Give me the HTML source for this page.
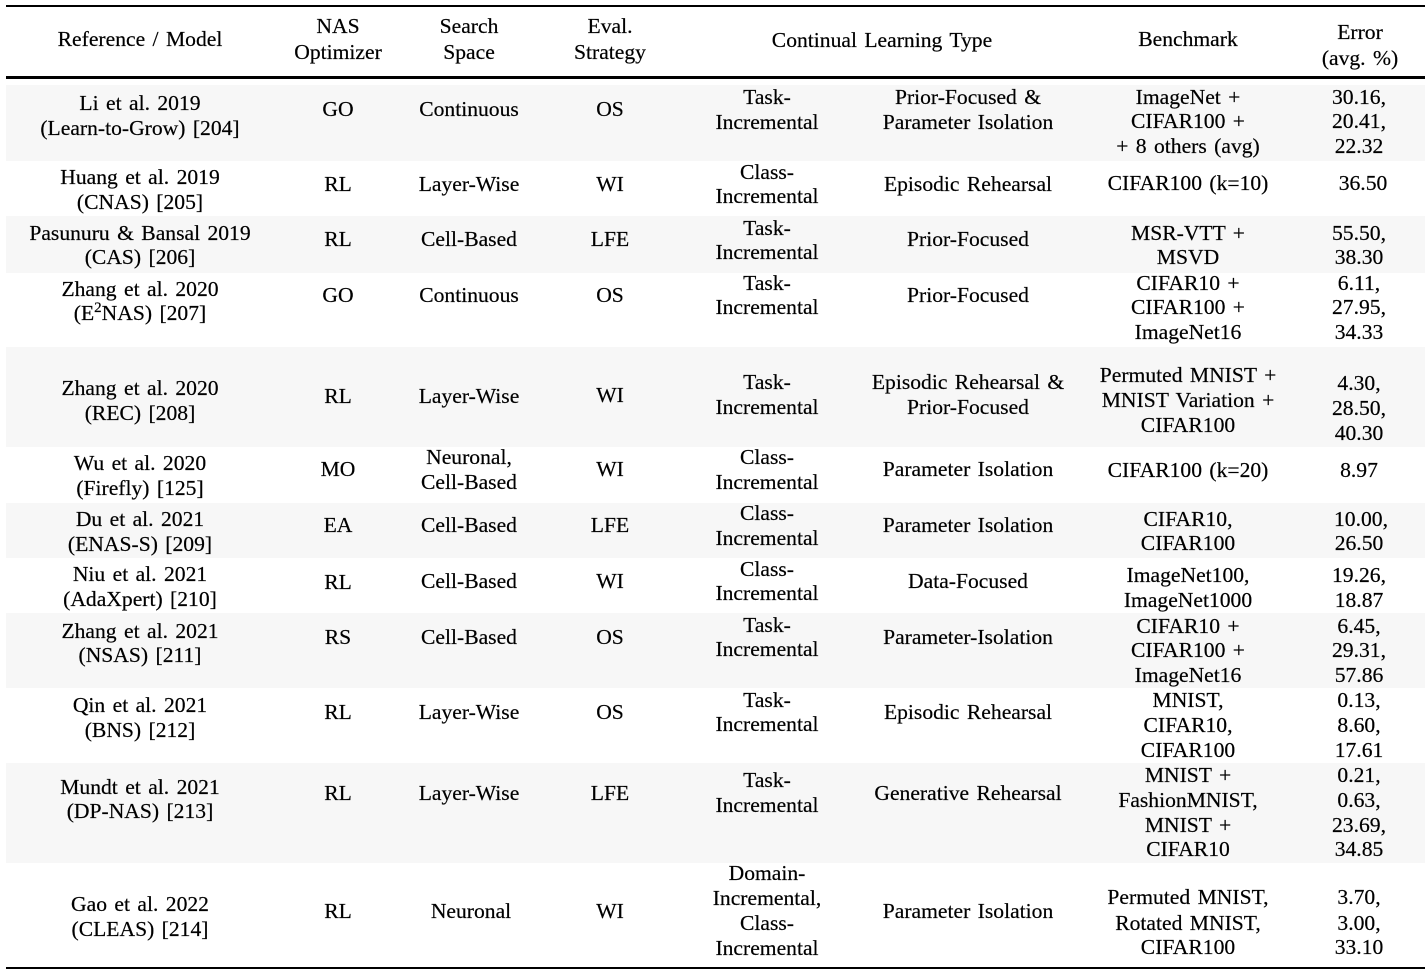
<!DOCTYPE html>
<html><head><meta charset="utf-8">
<style>
html,body{margin:0;padding:0;background:#fff;}
body{width:1425px;height:969px;position:relative;overflow:hidden;font-family:"Liberation Serif","Times New Roman",serif;font-size:21.6px;color:#000;word-spacing:2px;-webkit-text-stroke:0.2px #000;}
.t{position:absolute;width:400px;height:24px;line-height:24px;text-align:center;white-space:nowrap;}
.g{position:absolute;left:6px;width:1419px;background:#f7f7f7;}
.r{position:absolute;left:6px;width:1419px;background:#000;}
sup{font-size:15px;line-height:0;vertical-align:8px;}
</style></head><body>
<div class="r" style="top:5px;height:2.3px"></div>
<div class="r" style="top:76px;height:2.6px"></div>
<div class="r" style="top:966.5px;height:2.5px"></div>
<div class="g" style="top:85px;height:76px"></div>
<div class="g" style="top:216px;height:57px"></div>
<div class="g" style="top:347px;height:100px"></div>
<div class="g" style="top:503px;height:55px"></div>
<div class="g" style="top:613px;height:75px"></div>
<div class="g" style="top:763px;height:100px"></div>

<!-- header -->
<div class="t" style="left:-60px;top:27px">Reference / Model</div>
<div class="t" style="left:138px;top:14px">NAS</div>
<div class="t" style="left:138px;top:40px">Optimizer</div>
<div class="t" style="left:269px;top:14px">Search</div>
<div class="t" style="left:269px;top:40px">Space</div>
<div class="t" style="left:410px;top:14px">Eval.</div>
<div class="t" style="left:410px;top:40px">Strategy</div>
<div class="t" style="left:682px;top:28px">Continual Learning Type</div>
<div class="t" style="left:988px;top:27px">Benchmark</div>
<div class="t" style="left:1160px;top:20px">Error</div>
<div class="t" style="left:1160px;top:46px">(avg. %)</div>

<!-- row 1 -->
<div class="t" style="left:-60px;top:91px">Li et al. 2019</div>
<div class="t" style="left:-60px;top:116px">(Learn-to-Grow) [204]</div>
<div class="t" style="left:138px;top:97px">GO</div>
<div class="t" style="left:269px;top:97px">Continuous</div>
<div class="t" style="left:410px;top:97px">OS</div>
<div class="t" style="left:567px;top:85px">Task-</div>
<div class="t" style="left:567px;top:110px">Incremental</div>
<div class="t" style="left:768px;top:85px">Prior-Focused &amp;</div>
<div class="t" style="left:768px;top:110px">Parameter Isolation</div>
<div class="t" style="left:988px;top:85px">ImageNet +</div>
<div class="t" style="left:988px;top:109px">CIFAR100 +</div>
<div class="t" style="left:988px;top:134px">+ 8 others (avg)</div>
<div class="t" style="left:1159px;top:85px">30.16,</div>
<div class="t" style="left:1159px;top:109px">20.41,</div>
<div class="t" style="left:1159px;top:134px">22.32</div>

<!-- row 2 -->
<div class="t" style="left:-60px;top:165px">Huang et al. 2019</div>
<div class="t" style="left:-60px;top:190px">(CNAS) [205]</div>
<div class="t" style="left:138px;top:172px">RL</div>
<div class="t" style="left:269px;top:172px">Layer-Wise</div>
<div class="t" style="left:410px;top:172px">WI</div>
<div class="t" style="left:567px;top:160px">Class-</div>
<div class="t" style="left:567px;top:184px">Incremental</div>
<div class="t" style="left:768px;top:172px">Episodic Rehearsal</div>
<div class="t" style="left:988px;top:171px">CIFAR100 (k=10)</div>
<div class="t" style="left:1163px;top:171px">36.50</div>

<!-- row 3 -->
<div class="t" style="left:-60px;top:221px">Pasunuru &amp; Bansal 2019</div>
<div class="t" style="left:-60px;top:245px">(CAS) [206]</div>
<div class="t" style="left:138px;top:227px">RL</div>
<div class="t" style="left:269px;top:227px">Cell-Based</div>
<div class="t" style="left:410px;top:227px">LFE</div>
<div class="t" style="left:567px;top:216px">Task-</div>
<div class="t" style="left:567px;top:240px">Incremental</div>
<div class="t" style="left:768px;top:227px">Prior-Focused</div>
<div class="t" style="left:988px;top:221px">MSR-VTT +</div>
<div class="t" style="left:988px;top:245px">MSVD</div>
<div class="t" style="left:1159px;top:221px">55.50,</div>
<div class="t" style="left:1159px;top:245px">38.30</div>

<!-- row 4 -->
<div class="t" style="left:-60px;top:277px">Zhang et al. 2020</div>
<div class="t" style="left:-60px;top:301px">(E<sup>2</sup>NAS) [207]</div>
<div class="t" style="left:138px;top:283px">GO</div>
<div class="t" style="left:269px;top:283px">Continuous</div>
<div class="t" style="left:410px;top:283px">OS</div>
<div class="t" style="left:567px;top:271px">Task-</div>
<div class="t" style="left:567px;top:295px">Incremental</div>
<div class="t" style="left:768px;top:283px">Prior-Focused</div>
<div class="t" style="left:988px;top:271px">CIFAR10 +</div>
<div class="t" style="left:988px;top:295px">CIFAR100 +</div>
<div class="t" style="left:988px;top:320px">ImageNet16</div>
<div class="t" style="left:1159px;top:271px">6.11,</div>
<div class="t" style="left:1159px;top:295px">27.95,</div>
<div class="t" style="left:1159px;top:320px">34.33</div>

<!-- row 5 -->
<div class="t" style="left:-60px;top:376px">Zhang et al. 2020</div>
<div class="t" style="left:-60px;top:401px">(REC) [208]</div>
<div class="t" style="left:138px;top:384px">RL</div>
<div class="t" style="left:269px;top:384px">Layer-Wise</div>
<div class="t" style="left:410px;top:383px">WI</div>
<div class="t" style="left:567px;top:370px">Task-</div>
<div class="t" style="left:567px;top:395px">Incremental</div>
<div class="t" style="left:768px;top:370px">Episodic Rehearsal &amp;</div>
<div class="t" style="left:768px;top:395px">Prior-Focused</div>
<div class="t" style="left:988px;top:363px">Permuted MNIST +</div>
<div class="t" style="left:988px;top:388px">MNIST Variation +</div>
<div class="t" style="left:988px;top:413px">CIFAR100</div>
<div class="t" style="left:1159px;top:371px">4.30,</div>
<div class="t" style="left:1159px;top:396px">28.50,</div>
<div class="t" style="left:1159px;top:421px">40.30</div>

<!-- row 6 -->
<div class="t" style="left:-60px;top:451px">Wu et al. 2020</div>
<div class="t" style="left:-60px;top:476px">(Firefly) [125]</div>
<div class="t" style="left:138px;top:457px">MO</div>
<div class="t" style="left:269px;top:445px">Neuronal,</div>
<div class="t" style="left:269px;top:470px">Cell-Based</div>
<div class="t" style="left:410px;top:457px">WI</div>
<div class="t" style="left:567px;top:445px">Class-</div>
<div class="t" style="left:567px;top:470px">Incremental</div>
<div class="t" style="left:768px;top:457px">Parameter Isolation</div>
<div class="t" style="left:988px;top:458px">CIFAR100 (k=20)</div>
<div class="t" style="left:1159px;top:458px">8.97</div>

<!-- row 7 -->
<div class="t" style="left:-60px;top:507px">Du et al. 2021</div>
<div class="t" style="left:-60px;top:532px">(ENAS-S) [209]</div>
<div class="t" style="left:138px;top:513px">EA</div>
<div class="t" style="left:269px;top:513px">Cell-Based</div>
<div class="t" style="left:410px;top:513px">LFE</div>
<div class="t" style="left:567px;top:501px">Class-</div>
<div class="t" style="left:567px;top:526px">Incremental</div>
<div class="t" style="left:768px;top:513px">Parameter Isolation</div>
<div class="t" style="left:988px;top:507px">CIFAR10,</div>
<div class="t" style="left:988px;top:531px">CIFAR100</div>
<div class="t" style="left:1161px;top:507px">10.00,</div>
<div class="t" style="left:1159px;top:531px">26.50</div>

<!-- row 8 -->
<div class="t" style="left:-60px;top:562px">Niu et al. 2021</div>
<div class="t" style="left:-60px;top:587px">(AdaXpert) [210]</div>
<div class="t" style="left:138px;top:570px">RL</div>
<div class="t" style="left:269px;top:569px">Cell-Based</div>
<div class="t" style="left:410px;top:569px">WI</div>
<div class="t" style="left:567px;top:557px">Class-</div>
<div class="t" style="left:567px;top:581px">Incremental</div>
<div class="t" style="left:768px;top:569px">Data-Focused</div>
<div class="t" style="left:988px;top:563px">ImageNet100,</div>
<div class="t" style="left:988px;top:588px">ImageNet1000</div>
<div class="t" style="left:1159px;top:563px">19.26,</div>
<div class="t" style="left:1159px;top:588px">18.87</div>

<!-- row 9 -->
<div class="t" style="left:-60px;top:619px">Zhang et al. 2021</div>
<div class="t" style="left:-60px;top:643px">(NSAS) [211]</div>
<div class="t" style="left:138px;top:625px">RS</div>
<div class="t" style="left:269px;top:625px">Cell-Based</div>
<div class="t" style="left:410px;top:625px">OS</div>
<div class="t" style="left:567px;top:613px">Task-</div>
<div class="t" style="left:567px;top:637px">Incremental</div>
<div class="t" style="left:768px;top:625px">Parameter-Isolation</div>
<div class="t" style="left:988px;top:614px">CIFAR10 +</div>
<div class="t" style="left:988px;top:638px">CIFAR100 +</div>
<div class="t" style="left:988px;top:663px">ImageNet16</div>
<div class="t" style="left:1159px;top:614px">6.45,</div>
<div class="t" style="left:1159px;top:638px">29.31,</div>
<div class="t" style="left:1159px;top:663px">57.86</div>

<!-- row 10 -->
<div class="t" style="left:-60px;top:693px">Qin et al. 2021</div>
<div class="t" style="left:-60px;top:718px">(BNS) [212]</div>
<div class="t" style="left:138px;top:700px">RL</div>
<div class="t" style="left:269px;top:700px">Layer-Wise</div>
<div class="t" style="left:410px;top:700px">OS</div>
<div class="t" style="left:567px;top:688px">Task-</div>
<div class="t" style="left:567px;top:712px">Incremental</div>
<div class="t" style="left:768px;top:700px">Episodic Rehearsal</div>
<div class="t" style="left:988px;top:688px">MNIST,</div>
<div class="t" style="left:988px;top:713px">CIFAR10,</div>
<div class="t" style="left:988px;top:738px">CIFAR100</div>
<div class="t" style="left:1159px;top:688px">0.13,</div>
<div class="t" style="left:1159px;top:713px">8.60,</div>
<div class="t" style="left:1159px;top:738px">17.61</div>

<!-- row 11 -->
<div class="t" style="left:-60px;top:775px">Mundt et al. 2021</div>
<div class="t" style="left:-60px;top:799px">(DP-NAS) [213]</div>
<div class="t" style="left:138px;top:781px">RL</div>
<div class="t" style="left:269px;top:781px">Layer-Wise</div>
<div class="t" style="left:410px;top:781px">LFE</div>
<div class="t" style="left:567px;top:768px">Task-</div>
<div class="t" style="left:567px;top:793px">Incremental</div>
<div class="t" style="left:768px;top:781px">Generative Rehearsal</div>
<div class="t" style="left:988px;top:763px">MNIST +</div>
<div class="t" style="left:988px;top:788px">FashionMNIST,</div>
<div class="t" style="left:988px;top:813px">MNIST +</div>
<div class="t" style="left:988px;top:837px">CIFAR10</div>
<div class="t" style="left:1159px;top:763px">0.21,</div>
<div class="t" style="left:1159px;top:788px">0.63,</div>
<div class="t" style="left:1159px;top:813px">23.69,</div>
<div class="t" style="left:1159px;top:837px">34.85</div>

<!-- row 12 -->
<div class="t" style="left:-60px;top:892px">Gao et al. 2022</div>
<div class="t" style="left:-60px;top:917px">(CLEAS) [214]</div>
<div class="t" style="left:138px;top:899px">RL</div>
<div class="t" style="left:271px;top:899px">Neuronal</div>
<div class="t" style="left:410px;top:899px">WI</div>
<div class="t" style="left:567px;top:861px">Domain-</div>
<div class="t" style="left:567px;top:886px">Incremental,</div>
<div class="t" style="left:567px;top:911px">Class-</div>
<div class="t" style="left:567px;top:936px">Incremental</div>
<div class="t" style="left:768px;top:899px">Parameter Isolation</div>
<div class="t" style="left:988px;top:885px">Permuted MNIST,</div>
<div class="t" style="left:988px;top:911px">Rotated MNIST,</div>
<div class="t" style="left:988px;top:935px">CIFAR100</div>
<div class="t" style="left:1159px;top:885px">3.70,</div>
<div class="t" style="left:1159px;top:911px">3.00,</div>
<div class="t" style="left:1159px;top:935px">33.10</div>
</body></html>
